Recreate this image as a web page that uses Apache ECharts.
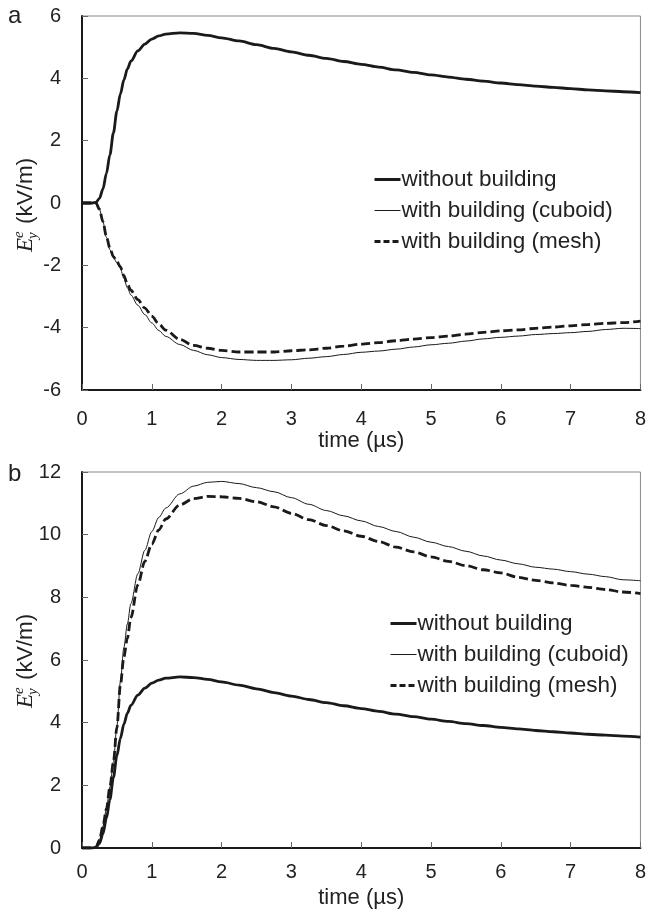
<!DOCTYPE html>
<html>
<head>
<meta charset="utf-8">
<script src="https://cdn.jsdelivr.net/npm/echarts@6/dist/echarts.min.js"></script>
<style>
  html, body { margin: 0; padding: 0; background: #ffffff; }
  #chart { width: 649px; height: 920px; }
</style>
</head>
<body>
<div id="chart"></div>
<script>
// Time samples (µs) shared by every curve
const timeUs = [0, 0.15, 0.2, 0.25, 0.3, 0.35, 0.4, 0.45, 0.5, 0.55, 0.6, 0.65, 0.7, 0.8, 0.9, 1.0, 1.1, 1.2, 1.4, 1.6,
  1.8, 2.0, 2.25, 2.5, 2.75, 3.0, 3.25, 3.5, 3.75, 4.0, 4.25, 4.5, 4.75, 5.0, 5.25, 5.5, 5.75, 6.0, 6.25, 6.5,
  6.75, 7.0, 7.25, 7.5, 7.75, 8.0];

// E_y^e without building (kV/m), same in both panels
const withoutBuilding = [0, 0, 0.02, 0.15, 0.45, 0.95, 1.55, 2.25, 2.95, 3.5, 3.95, 4.3, 4.55, 4.88, 5.1, 5.26, 5.36, 5.42, 5.46, 5.44,
  5.38, 5.3, 5.2, 5.08, 4.96, 4.85, 4.74, 4.64, 4.54, 4.45, 4.36, 4.27, 4.19, 4.11, 4.04, 3.97, 3.91, 3.85, 3.8, 3.75,
  3.71, 3.67, 3.63, 3.6, 3.57, 3.54];

// Panel a: with building
const cuboidA = [0, 0, 0, -0.2, -0.6, -1.1, -1.5, -1.75, -1.92, -2.1, -2.42, -2.72, -2.95, -3.28, -3.58, -3.85, -4.09, -4.28, -4.54, -4.73,
  -4.87, -4.96, -5.02, -5.05, -5.05, -5.03, -4.98, -4.93, -4.86, -4.79, -4.75, -4.69, -4.62, -4.55, -4.5, -4.43, -4.36, -4.31, -4.27, -4.22,
  -4.19, -4.16, -4.12, -4.06, -4.02, -4.03];
const meshA = [0, 0, 0, -0.2, -0.6, -1.08, -1.45, -1.72, -1.88, -2.05, -2.33, -2.6, -2.8, -3.1, -3.37, -3.63, -3.88, -4.08, -4.38, -4.57,
  -4.66, -4.73, -4.78, -4.78, -4.78, -4.74, -4.71, -4.66, -4.59, -4.53, -4.48, -4.42, -4.37, -4.32, -4.27, -4.21, -4.15, -4.1, -4.07, -4.02,
  -3.98, -3.94, -3.9, -3.86, -3.84, -3.79];

// Panel b: with building
const cuboidB = [0, 0, 0.03, 0.25, 0.7, 1.25, 1.95, 2.75, 3.9, 5.3, 6.4, 7.15, 7.8, 8.75, 9.5, 10.1, 10.55, 10.85, 11.3, 11.55,
  11.67, 11.7, 11.63, 11.5, 11.37, 11.18, 10.97, 10.77, 10.6, 10.44, 10.26, 10.1, 9.92, 9.76, 9.62, 9.47, 9.32, 9.19, 9.07, 8.96,
  8.9, 8.82, 8.74, 8.66, 8.56, 8.53];
const meshB = [0, 0, 0.03, 0.25, 0.7, 1.25, 1.95, 2.75, 3.85, 5.2, 6.1, 6.7, 7.35, 8.4, 9.15, 9.7, 10.15, 10.5, 10.95, 11.15,
  11.22, 11.21, 11.16, 11.05, 10.89, 10.68, 10.48, 10.29, 10.12, 9.95, 9.78, 9.6, 9.45, 9.29, 9.15, 9.01, 8.88, 8.78, 8.64, 8.54,
  8.46, 8.38, 8.32, 8.25, 8.17, 8.12];

const xTicks = [0, 1, 2, 3, 4, 5, 6, 7, 8];
const yTicksA = [-6, -4, -2, 0, 2, 4, 6];
const yTicksB = [0, 2, 4, 6, 8, 10, 12];

const seriesNames = ['without building', 'with building (cuboid)', 'with building (mesh)'];

const INK = '#1a1a1a';
const TEXT = '#222222';
const SANS = '"Liberation Sans", Arial, sans-serif';
const SERIF = '"Liberation Serif", "DejaVu Serif", serif';

const pairs = (vals) => timeUs.map((t, i) => [t, vals[i]]);

const lineStyles = [
  { color: INK, width: 2.8, type: 'solid' },
  { color: INK, width: 1, type: 'solid' },
  { color: INK, width: 2.8, type: [9, 4] }
];
const legendLineStyles = [
  { color: INK, width: 3, type: 'solid' },
  { color: INK, width: 1, type: 'solid' },
  { color: INK, width: 3, type: [6, 3] }
];

function makeSeries(name, vals, idx, styleIdx) {
  return {
    name: name,
    type: 'line',
    xAxisIndex: idx,
    yAxisIndex: idx,
    data: pairs(vals),
    symbol: 'none',
    smooth: 0.3,
    smoothMonotone: 'x',
    color: INK,
    itemStyle: { opacity: 0 },
    lineStyle: lineStyles[styleIdx],
    z: 3 - styleIdx
  };
}

function xAxisFor(idx, labelMargin, gap) {
  return {
    type: 'value', gridIndex: idx,
    min: xTicks[0], max: xTicks[xTicks.length - 1], interval: 1,
    name: 'time (µs)', nameLocation: 'middle', nameGap: gap,
    nameTextStyle: { fontFamily: SANS, fontSize: 22, color: TEXT },
    axisLine: { show: true, onZero: false, lineStyle: { color: INK, width: 2 } },
    axisTick: { show: true, inside: true, length: 6, lineStyle: { color: '#666', width: 1 } },
    axisLabel: { margin: labelMargin, fontFamily: SANS, fontSize: 20, color: TEXT },
    splitLine: { show: false }
  };
}

function yAxisFor(idx, ticks) {
  return {
    type: 'value', gridIndex: idx,
    min: ticks[0], max: ticks[ticks.length - 1], interval: 2,
    axisLine: { show: true, onZero: false, lineStyle: { color: INK, width: 2 } },
    axisTick: { show: true, inside: true, length: 6, lineStyle: { color: '#666', width: 1 } },
    axisLabel: { margin: 21, fontFamily: SANS, fontSize: 20, color: TEXT },
    splitLine: { show: false }
  };
}

// Rotated y-axis title: E with stacked super/subscript, then the unit
function yTitle(cx, cy) {
  const L = 96;
  const x0 = -L / 2;
  return {
    type: 'group', x: cx, y: cy, rotation: Math.PI / 2, silent: true,
    children: [
      { type: 'text', x: x0, y: 0, style: { text: 'E', font: 'italic 23px ' + SERIF, fill: TEXT, align: 'left', verticalAlign: 'middle' } },
      { type: 'text', x: x0 + 14, y: -7, style: { text: 'e', font: 'italic 15px ' + SERIF, fill: TEXT, align: 'left', verticalAlign: 'middle' } },
      { type: 'text', x: x0 + 13, y: 7, style: { text: 'y', font: 'italic 15px ' + SERIF, fill: TEXT, align: 'left', verticalAlign: 'middle' } },
      { type: 'text', x: x0 + 28, y: 0, style: { text: '(kV/m)', font: '22.5px ' + SANS, fill: TEXT, align: 'left', verticalAlign: 'middle' } }
    ]
  };
}

function legendAt(left, top) {
  return {
    show: true, orient: 'vertical', left: left, top: top,
    data: seriesNames.map((n, i) => ({ name: n, lineStyle: legendLineStyles[i] })),
    itemWidth: 26, itemHeight: 22, itemGap: 8,
    selectedMode: false,
    itemStyle: { opacity: 0 },
    textStyle: { fontFamily: SANS, fontSize: 22.5, color: TEXT, lineHeight: 22, padding: [0, 0, 0, -4] },
    padding: 0
  };
}

const chart = echarts.init(document.getElementById('chart'), null, { renderer: 'canvas' });
chart.setOption({
  backgroundColor: '#ffffff',
  animation: false,
  grid: [
    { left: 82, top: 16, width: 561, height: 374, show: true, borderColor: '#888', borderWidth: 1, containLabel: false },
    { left: 82, top: 472, width: 561, height: 376, show: true, borderColor: '#888', borderWidth: 1, containLabel: false }
  ],
  xAxis: [xAxisFor(0, 19, 38), xAxisFor(1, 14, 39)],
  yAxis: [yAxisFor(0, yTicksA), yAxisFor(1, yTicksB)],
  legend: [legendAt(373, 168), legendAt(389, 612)],
  graphic: [
    { type: 'text', left: 8, top: 4, style: { text: 'a', font: '24px ' + SANS, fill: TEXT } },
    { type: 'text', left: 8, top: 462, style: { text: 'b', font: '24px ' + SANS, fill: TEXT } },
    yTitle(26, 204),
    yTitle(26, 660)
  ],
  series: [
    makeSeries(seriesNames[0], withoutBuilding, 0, 0),
    makeSeries(seriesNames[1], cuboidA, 0, 1),
    makeSeries(seriesNames[2], meshA, 0, 2),
    makeSeries(seriesNames[0], withoutBuilding, 1, 0),
    makeSeries(seriesNames[1], cuboidB, 1, 1),
    makeSeries(seriesNames[2], meshB, 1, 2)
  ]
});
</script>
</body>
</html>
